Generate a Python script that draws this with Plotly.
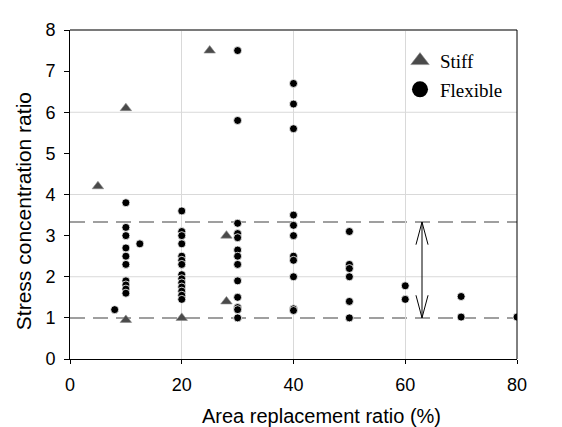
import plotly.graph_objects as go

# ---- data ----
stiff_x = [5, 10, 10, 20, 25, 28, 28]
stiff_y = [4.2, 6.1, 0.95, 1.0, 7.5, 3.0, 1.4]

flex_x = ([8] + [10] * 10 + [12.5] + [20] * 14 + [30] * 13 + [40] * 11
          + [50] * 6 + [60] * 2 + [70] * 2 + [80])
flex_y = ([1.2]
          + [3.8, 3.2, 3.0, 2.7, 2.5, 2.3, 1.9, 1.8, 1.7, 1.6]
          + [2.8]
          + [3.6, 3.1, 3.0, 2.8, 2.5, 2.4, 2.3, 2.05, 1.95, 1.85, 1.75, 1.65, 1.55, 1.45]
          + [7.5, 5.8, 3.3, 3.05, 2.95, 2.65, 2.5, 2.3, 1.9, 1.5, 1.25, 1.2, 1.0]
          + [6.7, 6.2, 5.6, 3.5, 3.25, 3.0, 2.5, 2.4, 2.0, 1.22, 1.18]
          + [3.1, 2.3, 2.2, 2.0, 1.4, 1.0]
          + [1.78, 1.45]
          + [1.52, 1.02]
          + [1.02])

lower_bound = 1.0
upper_bound = 3.33
arrow_x = 63

x_ticks = [0, 20, 40, 60, 80]
y_ticks = [0, 1, 2, 3, 4, 5, 6, 7, 8]
y_grid = [2, 4, 6]

x_title = "Area replacement ratio (%)"
y_title = "Stress concentration ratio"

fig = go.Figure()

# Real points
fig.add_trace(go.Scatter(
    x=flex_x, y=flex_y, mode="markers", showlegend=False,
    marker=dict(symbol="circle", size=8, color="black",
                line=dict(color="white", width=0.8)),
))
fig.add_trace(go.Scatter(
    x=stiff_x, y=stiff_y, mode="markers", showlegend=False,
    marker=dict(symbol="triangle-up", size=10, color="#4a4a4a",
                line=dict(color="#8a8a8a", width=0.6)),
))
# Legend entries
fig.add_trace(go.Scatter(
    x=[None], y=[None], mode="markers", name="Stiff", legendgroup="s",
    marker=dict(symbol="triangle-up", size=16, color="#4a4a4a",
                line=dict(color="#8a8a8a", width=0.6)),
))
fig.add_trace(go.Scatter(
    x=[None], y=[None], mode="markers", name="Flexible", legendgroup="f",
    marker=dict(symbol="circle", size=16, color="black"),
))

shapes = []
for gy in y_grid:
    shapes.append(dict(type="line", xref="paper", yref="y", x0=0, x1=1, y0=gy, y1=gy,
                       line=dict(color="#d9d9d9", width=1), layer="below"))
for by in (lower_bound, upper_bound):
    shapes.append(dict(type="line", xref="paper", yref="y", x0=0, x1=1, y0=by, y1=by,
                       line=dict(color="#808080", width=1.5, dash="15px,8px"), layer="between"))
# top & right frame
shapes.append(dict(type="line", xref="paper", yref="paper", x0=0, x1=1, y0=1, y1=1,
                   line=dict(color="#7a7a7a", width=2)))
shapes.append(dict(type="line", xref="paper", yref="paper", x0=1, x1=1, y0=0, y1=1,
                   line=dict(color="black", width=1)))
# double arrow
hx, hy = 1.08, 0.55
shapes.append(dict(type="line", xref="x", yref="y", x0=arrow_x, x1=arrow_x,
                   y0=lower_bound, y1=upper_bound, line=dict(color="black", width=1)))
shapes.append(dict(type="path", xref="x", yref="y",
                   path=f"M{arrow_x - hx},{upper_bound - hy} L{arrow_x},{upper_bound} L{arrow_x + hx},{upper_bound - hy}",
                   line=dict(color="black", width=1)))
shapes.append(dict(type="path", xref="x", yref="y",
                   path=f"M{arrow_x - hx},{lower_bound + hy} L{arrow_x},{lower_bound} L{arrow_x + hx},{lower_bound + hy}",
                   line=dict(color="black", width=1)))

W, H = 562, 427
ml, mr, mt, mb = 62, 53, 15, 76
pw, ph = W - ml - mr, H - mt - mb

annotations = [
    dict(text=x_title, xref="paper", yref="paper",
         x=(313 - ml) / pw, y=(H - mb - 409) / ph, xanchor="center", yanchor="middle",
         showarrow=False, font=dict(family="Liberation Sans, Arial", size=20, color="black")),
    dict(text=y_title, xref="paper", yref="paper", textangle=-90,
         x=(15 - ml) / pw, y=(H - mb - 200) / ph, xanchor="center", yanchor="middle",
         showarrow=False, font=dict(family="Liberation Sans, Arial", size=21, color="black")),
]

fig.update_layout(
    width=W, height=H, autosize=False,
    margin=dict(l=ml, r=mr, t=mt, b=mb, pad=0),
    paper_bgcolor="white", plot_bgcolor="white",
    font=dict(family="Liberation Sans, Arial", size=18, color="black"),
    shapes=shapes, annotations=annotations,
    legend=dict(x=(392 - ml) / pw, y=(H - mb - 27) / ph, xanchor="left", yanchor="top",
                bgcolor="rgba(0,0,0,0)", borderwidth=0, traceorder="grouped",
                tracegroupgap=1,
                font=dict(family="Liberation Serif, Times New Roman", size=19, color="black")),
    xaxis=dict(range=[0, 80], tickvals=x_ticks, showgrid=True, gridcolor="#d9d9d9",
               gridwidth=1, zeroline=False, showline=True, linecolor="black", linewidth=1,
               ticks="outside", ticklen=4, tickcolor="black", ticklabelstandoff=5,
               tickfont=dict(size=18)),
    yaxis=dict(range=[0, 8], tickvals=y_ticks, showgrid=False, zeroline=False,
               showline=True, linecolor="black", linewidth=1,
               ticks="outside", ticklen=5, tickcolor="black", ticklabelstandoff=5,
               tickfont=dict(size=18)),
)

fig.write_html("out.html")
